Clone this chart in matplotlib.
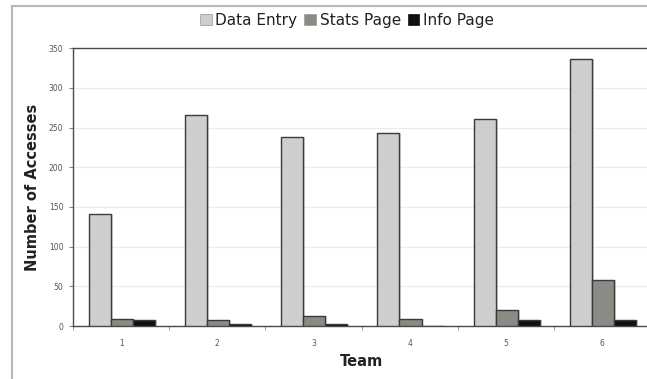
import matplotlib
matplotlib.use("Agg")
import matplotlib.pyplot as plt
from matplotlib.lines import Line2D
from matplotlib.patches import Patch
import numpy as np

teams = ["1", "2", "3", "4", "5", "6"]
series_names = ["Data Entry", "Stats Page", "Info Page"]
data_entry = [141, 266, 238, 243, 261, 336]
stats_page = [9, 7, 12, 9, 20, 58]
info_page = [7, 2, 2, 0, 7, 7]
y_ticks = [0, 50, 100, 150, 200, 250, 300, 350]

colors = ["#cfcecc", "#8b8b85", "#111111"]
edge = "#3a3a3a"

fig = plt.figure(figsize=(6.47, 3.79), dpi=100)
ax = fig.add_axes([73/647, 1-326/379, (650-73)/647, (326-48.3)/379])

x = np.arange(len(teams))
bw = 0.229
start = 0.166
for k, vals in enumerate([data_entry, stats_page, info_page]):
    centers = x + start + bw*(k+0.5)
    # subtle shadow
    ax.bar(centers + 0.02, vals, width=bw, color="#bdbdbd", edgecolor="none", zorder=2, alpha=0.6)
    ax.bar(centers, vals, width=bw, color=colors[k], edgecolor=edge, linewidth=1.0, zorder=3)

ax.set_xlim(0, 6)
ax.set_ylim(0, 350)
ax.set_yticks(y_ticks)
ax.set_yticklabels([str(v) for v in y_ticks], fontsize=5.5, color="#555555")
ax.yaxis.grid(True, color="#ebebeb", linewidth=0.9, zorder=0)
ax.set_axisbelow(True)
ax.tick_params(axis="y", length=3, width=0.6, color="#666666", pad=4)

ax.set_xticks(np.arange(0, 7))
ax.set_xticklabels([])
ax.tick_params(axis="x", which="major", length=3, width=0.6, color="#888888", direction="out")
ax.set_xticks(x + 0.5, minor=True)
ax.set_xticklabels(teams, minor=True, fontsize=5.5, color="#555555")
ax.tick_params(axis="x", which="minor", length=0, pad=9)

for s in ["top", "left", "bottom"]:
    ax.spines[s].set_color("#4a4a4a")
    ax.spines[s].set_linewidth(1.0)
ax.spines["right"].set_visible(False)

ax.set_ylabel("Number of Accesses", fontsize=10.5, fontweight="bold", color="#222222", labelpad=6)
ax.set_xlabel("Team", fontsize=10.5, fontweight="bold", color="#222222", labelpad=5)

handles = [Patch(facecolor=c, edgecolor="#999999" if i < 2 else "#111111", linewidth=0.5) for i, c in enumerate(colors)]
fig.legend(handles, series_names, loc="center", bbox_to_anchor=(347/647, 1-20/379), ncol=3,
           frameon=False, fontsize=11, handlelength=0.75, handleheight=0.75,
           handletextpad=0.25, columnspacing=0.45, borderpad=0, labelcolor="#222222")

# outer frame lines
fig.add_artist(Line2D([12/647, 1.0], [1-6/379, 1-6/379], transform=fig.transFigure, color="#b8b8b8", linewidth=1.5))
fig.add_artist(Line2D([12/647, 12/647], [0, 1-6/379], transform=fig.transFigure, color="#b8b8b8", linewidth=1.5))

fig.savefig("out.png", dpi=100)
